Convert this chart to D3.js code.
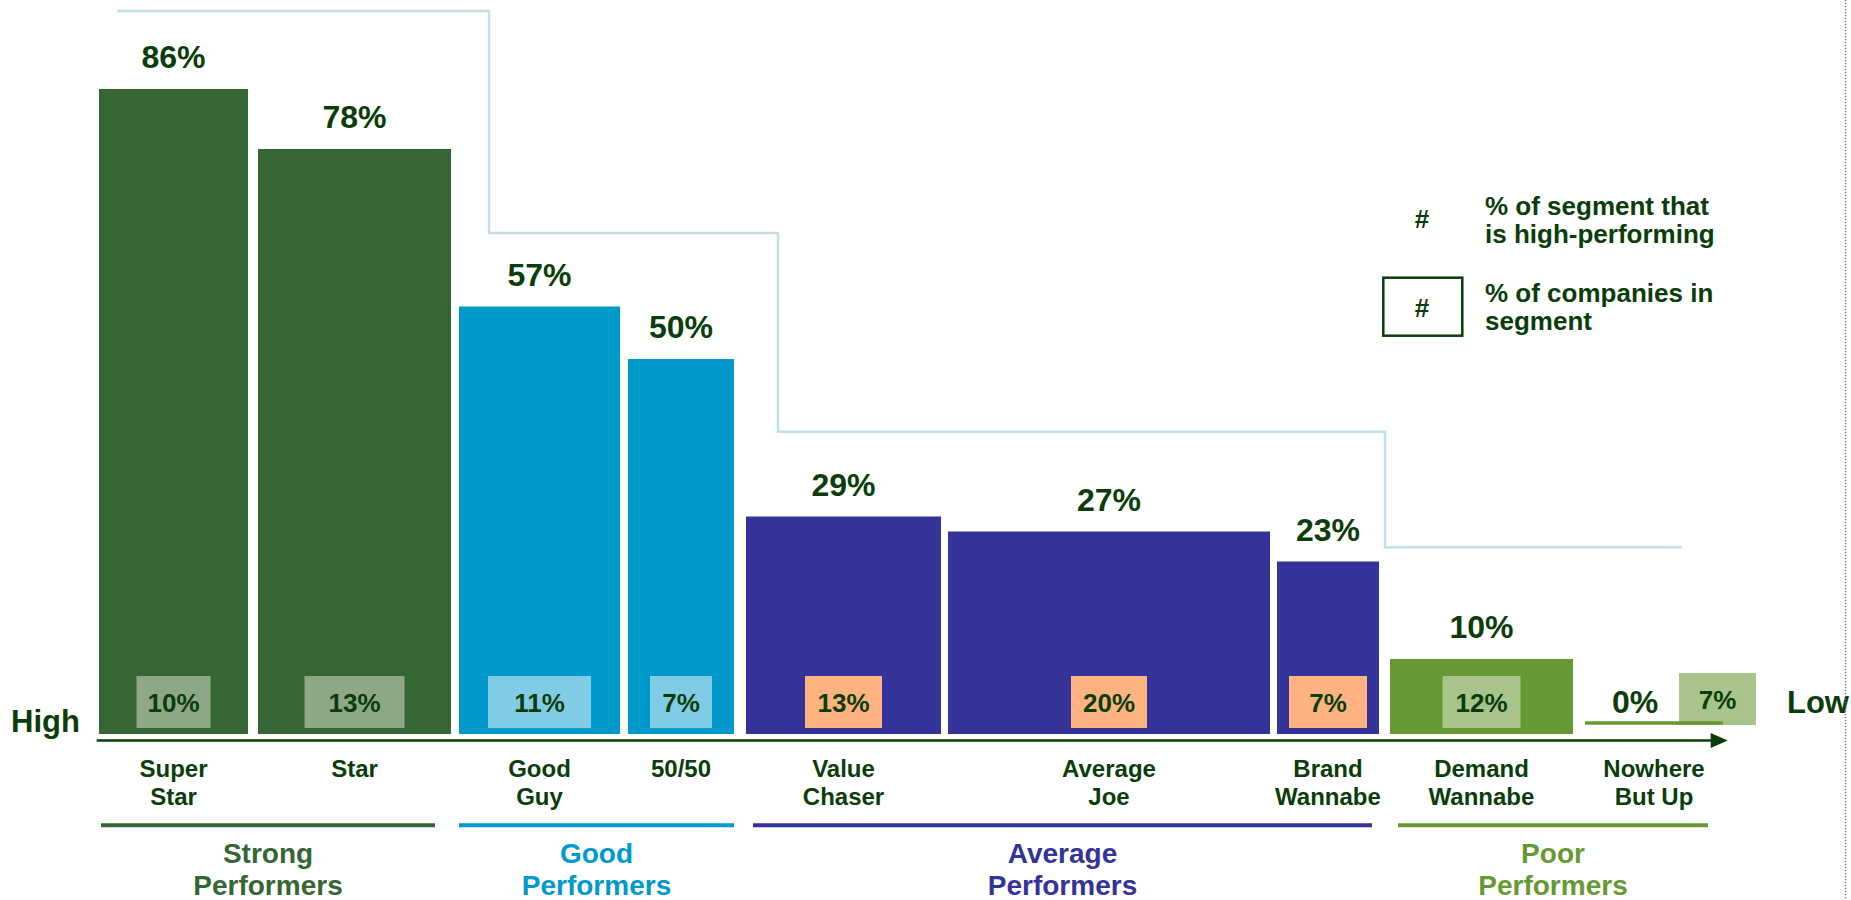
<!DOCTYPE html>
<html>
<head>
<meta charset="utf-8">
<script src="https://cdn.jsdelivr.net/npm/d3@7"></script>
<style>
  html, body { margin: 0; padding: 0; background: #ffffff; }
  svg { display: block; font-family: "Liberation Sans", Arial, sans-serif; font-weight: bold; }
</style>
</head>
<body>
<svg id="chart" width="1851" height="900"></svg>
<script>
// ---- data ----
const segments = [["Super", "Star"], ["Star"], ["Good", "Guy"], ["50/50"], ["Value", "Chaser"],
                  ["Average", "Joe"], ["Brand", "Wannabe"], ["Demand", "Wannabe"], ["Nowhere", "But Up"]];
const highPerformingPct = [86, 78, 57, 50, 29, 27, 23, 10, 0];
const companyPct = [10, 13, 11, 7, 13, 20, 7, 12, 7];
const segmentTier = [0, 0, 1, 1, 2, 2, 2, 3, 3];
const tiers = [["Strong", "Performers"], ["Good", "Performers"], ["Average", "Performers"], ["Poor", "Performers"]];
const tierCeilingPct = [96.4, 66.8, 40.3, 24.9];
const axisEnds = ["High", "Low"];
const legendItems = [["% of segment that", "is high-performing"], ["% of companies in", "segment"]];

// ---- layout (px units along the category axis) ----
const barSpan = [149, 193, 161, 106, 195, 322, 102, 183, 138];
const barGap = [0, 10, 8, 8, 12, 7, 7, 11, 12];
const boxWidth = [74, 100, 103, 62, 77, 76, 78, 78, 77];
const tierInset = [[2, 16], [0, 0], [7, 7], [8, 15]];
const tierBreaks = [18, 390, 679, 1286, 1583];

// ---- styles ----
const ink = "#0a3d0a";
const tierColor = ["#366633", "#0099cc", "#333399", "#669933"];
const boxColor = ["#8ea887", "#80cce6", "#ffb380", "#a8c48a"];
const stepColor = "#bfe0e6";

const svg = d3.select("#chart");

// cumulative slot positions
const starts = [];
let acc = 0;
barSpan.forEach((s, i) => { acc += barGap[i]; starts.push(acc); acc += s; });
const totalUnits = acc;

const x = d3.scaleLinear().domain([0, totalUnits]).range([99, 1723]);
const y = d3.scaleLinear().domain([0, 100]).range([734, -16]);
const base = y(0);

const rows = segments.map((lines, i) => ({
  lines, i,
  v: highPerformingPct[i],
  share: companyPct[i],
  tier: segmentTier[i],
  x0: x(starts[i]),
  x1: x(starts[i] + barSpan[i])
}));
rows.forEach(d => { d.cx = (d.x0 + d.x1) / 2; });

// step outline above the tiers
const stepPts = [];
tierCeilingPct.forEach((c, k) => {
  stepPts.push([x(tierBreaks[k]), y(c)]);
  stepPts.push([x(tierBreaks[k + 1]), y(c)]);
});
svg.append("path")
  .attr("d", d3.line()(stepPts))
  .attr("fill", "none")
  .attr("stroke", stepColor)
  .attr("stroke-width", 2.5);

// bars
svg.append("g").selectAll("rect")
  .data(rows.filter(d => d.v > 0))
  .join("rect")
  .attr("x", d => d.x0)
  .attr("width", d => d.x1 - d.x0)
  .attr("y", d => y(d.v))
  .attr("height", d => base - y(d.v))
  .attr("fill", d => tierColor[d.tier]);

// share boxes
const boxes = svg.append("g").selectAll("g")
  .data(rows)
  .join("g")
  .attr("transform", d => {
    const w = boxWidth[d.i];
    const bx = d.v > 0 ? d.cx - w / 2 : d.x0 + 94;
    const by = d.v > 0 ? base - 58 : base - 61;
    return `translate(${bx},${by})`;
  });
boxes.append("rect")
  .attr("width", d => boxWidth[d.i])
  .attr("height", 52)
  .attr("fill", d => boxColor[d.tier]);
boxes.append("text")
  .attr("x", d => boxWidth[d.i] / 2)
  .attr("y", 35.5)
  .attr("text-anchor", "middle")
  .attr("font-size", 26)
  .attr("fill", ink)
  .text(d => d.share + "%");

// zero-height segments drawn as a thin rule
svg.append("g").selectAll("line")
  .data(rows.filter(d => d.v === 0))
  .join("line")
  .attr("x1", d => d.x0)
  .attr("x2", d => d.x1)
  .attr("y1", base - 11)
  .attr("y2", base - 11)
  .attr("stroke", d => tierColor[d.tier])
  .attr("stroke-width", 3.5);

// value labels above bars
svg.append("g").selectAll("text")
  .data(rows)
  .join("text")
  .attr("x", d => d.v > 0 ? d.cx : d.x0 + 50)
  .attr("y", d => d.v > 0 ? y(d.v) - 21 : base - 21)
  .attr("text-anchor", "middle")
  .attr("font-size", 32)
  .attr("fill", ink)
  .text(d => d.v + "%");

// axis with arrow
const axisY = 740.5;
const axisStart = x(-2.3), axisTip = x(totalUnits + 4.7);
svg.append("line")
  .attr("x1", axisStart).attr("x2", axisTip - 14)
  .attr("y1", axisY).attr("y2", axisY)
  .attr("stroke", ink).attr("stroke-width", 2.5);
svg.append("path")
  .attr("d", d3.line()([[axisTip - 17, axisY - 7.5], [axisTip, axisY], [axisTip - 17, axisY + 7.5]]) + "Z")
  .attr("fill", ink);

svg.append("text").attr("x", 11).attr("y", 731.7)
  .attr("font-size", 31).attr("fill", ink).text(axisEnds[0]);
svg.append("text").attr("x", 1787).attr("y", 713)
  .attr("font-size", 31).attr("fill", ink).text(axisEnds[1]);

// segment names
const catLabels = svg.append("g").selectAll("text")
  .data(rows)
  .join("text")
  .attr("text-anchor", "middle")
  .attr("font-size", 24)
  .attr("fill", ink);
catLabels.selectAll("tspan")
  .data(d => d.lines.map((t, k) => ({ t, k, cx: d.cx })))
  .join("tspan")
  .attr("x", d => d.cx)
  .attr("y", d => 777 + d.k * 27.5)
  .text(d => d.t);

// tier rules and names
const tierRows = tiers.map((lines, k) => {
  const members = rows.filter(d => d.tier === k);
  const a = members[0], b = members[members.length - 1];
  return {
    lines, k,
    x0: x(starts[a.i] + tierInset[k][0]),
    x1: x(starts[b.i] + barSpan[b.i] - tierInset[k][1])
  };
});
svg.append("g").selectAll("line")
  .data(tierRows)
  .join("line")
  .attr("x1", d => d.x0).attr("x2", d => d.x1)
  .attr("y1", 825.3).attr("y2", 825.3)
  .attr("stroke", d => tierColor[d.k])
  .attr("stroke-width", 4);
const tierLabels = svg.append("g").selectAll("text")
  .data(tierRows)
  .join("text")
  .attr("text-anchor", "middle")
  .attr("font-size", 28)
  .attr("fill", d => tierColor[d.k]);
tierLabels.selectAll("tspan")
  .data(d => d.lines.map((t, j) => ({ t, j, cx: (d.x0 + d.x1) / 2 })))
  .join("tspan")
  .attr("x", d => d.cx)
  .attr("y", d => 863 + d.j * 32)
  .text(d => d.t);

// legend
const legend = svg.append("g");
legend.append("text").attr("x", 1422).attr("y", 228.3)
  .attr("text-anchor", "middle").attr("font-size", 26).attr("fill", ink).text("#");
legend.append("rect").attr("x", 1383.3).attr("y", 277.7)
  .attr("width", 79).attr("height", 58)
  .attr("fill", "none").attr("stroke", ink).attr("stroke-width", 2.5);
legend.append("text").attr("x", 1422).attr("y", 316.7)
  .attr("text-anchor", "middle").attr("font-size", 26).attr("fill", ink).text("#");
const legendTop = [215, 301.7];
legendItems.forEach((lines, k) => {
  const t = legend.append("text").attr("font-size", 26).attr("fill", ink);
  lines.forEach((line, j) => {
    t.append("tspan").attr("x", 1485).attr("y", legendTop[k] + j * 28).text(line);
  });
});

// dotted page divider on the right
svg.append("line")
  .attr("x1", 1845.5).attr("x2", 1845.5)
  .attr("y1", 0).attr("y2", 900)
  .attr("stroke", "#777777")
  .attr("stroke-width", 1.4)
  .attr("stroke-dasharray", "1.3,1.7");
</script>
</body>
</html>
